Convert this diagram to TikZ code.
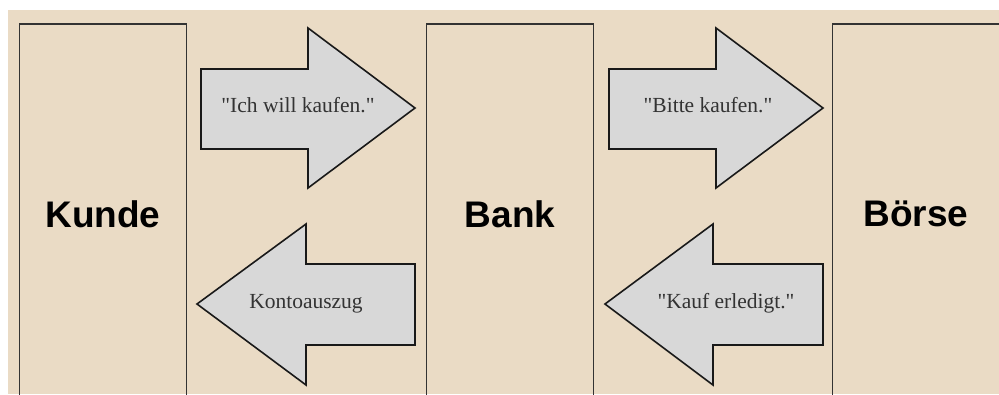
\documentclass[tikz,border=0pt]{standalone}
\usepackage{fontspec}
\setmainfont{Liberation Serif}
\newfontfamily\parteifont{Liberation Sans}
\definecolor{sand}{RGB}{234,219,197}
\definecolor{pfeilgrau}{RGB}{216,216,216}

\begin{document}
\begin{tikzpicture}[x=1pt,y=-1pt,
	partei/.style={draw=black!80,line width=1.7pt,minimum width=167pt,minimum height=380pt,anchor=north,font=\parteifont\bfseries\fontsize{37}{40}\selectfont},
	pfeil/.style={draw=black!90,line width=1.6pt,fill=pfeilgrau},
	nachricht/.style={anchor=base,font=\fontsize{21.5}{24}\selectfont,text=black!80}]
						\useasboundingbox (0,0) rectangle (999,394);
						\clip (0,0) rectangle (999,394);
						\fill[sand] (8,10) rectangle (999,394);
						\node[partei] (kunde) at (103,23) {Kunde};
						\node[partei] (bank) at (510,23) {Bank};
						\node[partei] (boerse) at (916,23) {Börse};
						\draw[pfeil] (201,69) -- (308,69) -- (308,28) -- (415,108) -- (308,188) -- (308,149) -- (201,149) -- cycle;
						\draw[pfeil] (609,69) -- (716,69) -- (716,28) -- (823,108) -- (716,188) -- (716,149) -- (609,149) -- cycle;
						\draw[pfeil] (415,264) -- (306,264) -- (306,224) -- (197,304) -- (306,385) -- (306,345) -- (415,345) -- cycle;
						\draw[pfeil] (823,264) -- (713,264) -- (713,224) -- (605,304) -- (713,385) -- (713,345) -- (823,345) -- cycle;
						\node[nachricht] (wunsch) at (298,112) {\textquotedbl Ich will kaufen.\textquotedbl};
						\node[nachricht] (auftrag) at (708,112) {\textquotedbl Bitte kaufen.\textquotedbl};
						\node[nachricht] (auszug) at (306,308) {Kontoauszug};
						\node[nachricht] (erledigt) at (726,308) {\textquotedbl Kauf erledigt.\textquotedbl};
					\end{tikzpicture}
\end{document}
